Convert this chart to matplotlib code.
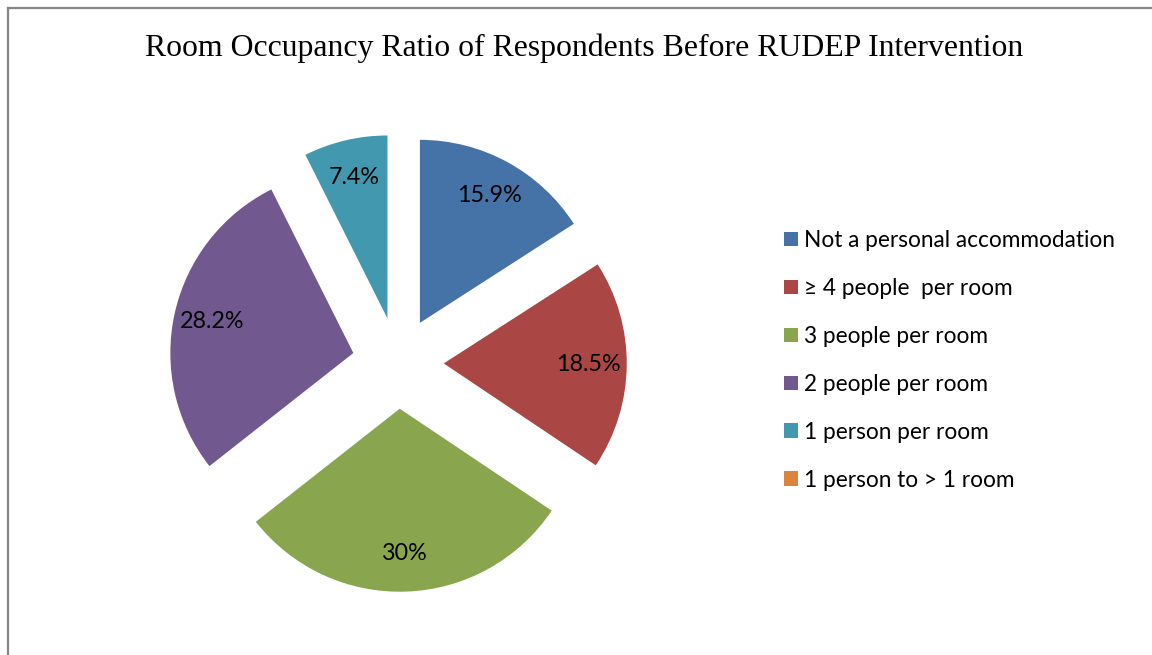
import matplotlib.pyplot as plt
from matplotlib.lines import Line2D

categories = ['Not a personal accommodation', '\u2265 4 people  per room', '3 people per room',
              '2 people per room', '1 person per room', '1 person to > 1 room']
shares = [15.9, 18.5, 30.0, 28.2, 7.4, 0.0]
colors = ['#4572A7', '#AA4643', '#89A54E', '#71588F', '#4198AF', '#DB843D']
title = 'Room Occupancy Ratio of Respondents Before RUDEP Intervention'

W, H = 1152, 655
fig = plt.figure(figsize=(W / 100, H / 100), dpi=100)

# chart border (only left and top edges show in the picture)
fig.add_artist(Line2D([8 / W, 8 / W], [0, 1 - 8 / H], transform=fig.transFigure,
                      color='#868686', lw=1.6))
fig.add_artist(Line2D([8 / W, 1], [1 - 8 / H, 1 - 8 / H], transform=fig.transFigure,
                      color='#868686', lw=1.6))

fig.text(584 / W, 1 - 48 / H, title, ha='center', va='center',
         fontsize=22.9, family='Liberation Serif')

# pie axes placed in pixel units: centre (398, 363), radius 183 px
cx, cy, r, half = 398, 363, 183, 240
ax = fig.add_axes([(cx - half) / W, (H - cy - half) / H, 2 * half / W, 2 * half / H])
lim = half / r


def pct(v):
    return '' if v < 0.05 else '%g%%' % round(v, 1)


wedges, texts, autotexts = ax.pie(shares, colors=colors, startangle=90, counterclock=False,
                                  explode=[0.25] * len(shares), radius=1, autopct=pct,
                                  pctdistance=0.79, frame=True)
ax.set_xlim(-lim, lim)
ax.set_ylim(-lim, lim)
ax.set_aspect('equal')
ax.axis('off')
for t in autotexts:
    t.set_fontsize(16.8)
    t.set_family(['Lato', 'DejaVu Sans'])

fig.legend(wedges, categories, loc='upper left', bbox_to_anchor=(784 / W, 1 - 230 / H),
           frameon=False, prop={'family': ['Lato', 'DejaVu Sans'], 'size': 16.3},
           handlelength=0.62, handleheight=0.62, handletextpad=0.25, labelspacing=1.19,
           borderpad=0, borderaxespad=0)

fig.savefig('out.png', dpi=100)
